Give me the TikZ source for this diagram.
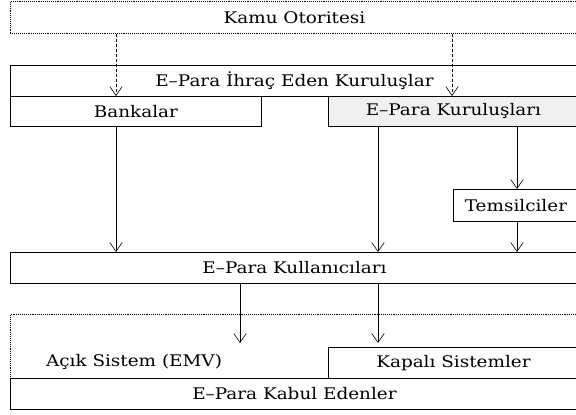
\documentclass[tikz,border=0pt]{standalone}
\usepackage{fontspec}
\setmainfont[FakeStretch=1.15]{DejaVu Serif}
\usetikzlibrary{arrows.meta}
\begin{document}
\begin{tikzpicture}[x=1pt,y=-1pt,
 box/.style={draw, line width=0.9pt, anchor=north west, inner sep=0pt, font=\fontsize{16}{18}\selectfont},
 dotbox/.style={box, densely dotted},
 lbl/.style={inner sep=0pt, font=\fontsize{16}{18}\selectfont},
 arr/.style={-{Straight Barb[length=9pt,width=12.5pt]}, line width=0.6pt},
 darr/.style={arr, dash pattern=on 3pt off 2pt}]
\useasboundingbox (0,0) rectangle (576,415);
\coordinate (xa) at (116,0);
\coordinate (xb) at (452,0);
\coordinate (xc) at (378,0);
\coordinate (xd) at (517,0);
\coordinate (xe) at (240,0);
\node[dotbox, minimum width=568pt, minimum height=32pt] (kamu) at (10,1) {Kamu Otoritesi};
\node[box, minimum width=568pt, minimum height=31pt] (ihrac) at (10,65) {E–Para İhraç Eden Kuruluşlar};
\node[box, minimum width=251pt, minimum height=30pt] (bankalar) at (10,96) {Bankalar};
\node[box, fill=gray!12, minimum width=250pt, minimum height=30pt] (ekur) at (328,96) {E–Para Kuruluşları};
\node[box, minimum width=125pt, minimum height=32pt] (temsil) at (453,189) {Temsilciler};
\node[box, minimum width=568pt, minimum height=31pt] (kull) at (10,252) {E–Para Kullanıcıları};
\node[dotbox, minimum width=568pt, minimum height=64pt] (alan) at (10,314) {};
\node[lbl] (acik) at (134,362) {Açık Sistem (EMV)};
\node[box, minimum width=250pt, minimum height=31pt] (kapali) at (328,347) {Kapalı Sistemler};
\node[box, minimum width=568pt, minimum height=31pt] (kabul) at (10,378) {E–Para Kabul Edenler};
\draw[darr] (kamu.south -| xa) -- (bankalar.north -| xa);
\draw[darr] (kamu.south -| xb) -- (ekur.north -| xb);
\draw[arr] (bankalar.south -| xa) -- (kull.north -| xa);
\draw[arr] (ekur.south -| xc) -- (kull.north -| xc);
\draw[arr] (ekur.south -| xd) -- (temsil.north -| xd);
\draw[arr] (temsil.south -| xd) -- (kull.north -| xd);
\draw[arr, shorten >=4pt] (kull.south -| xe) -- (kapali.north -| xe);
\draw[arr, shorten >=4pt] (kull.south -| xc) -- (kapali.north -| xc);
\end{tikzpicture}
\end{document}
